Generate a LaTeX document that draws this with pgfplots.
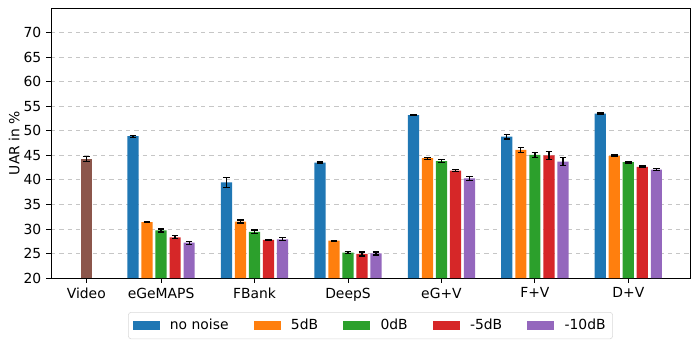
\documentclass[border=0pt]{standalone}
\usepackage{fontspec}
\setmainfont{DejaVu Sans}
\usepackage{pgfplots}
\pgfplotsset{compat=1.18}
\definecolor{tabblue}{HTML}{1F77B4}
\definecolor{taborange}{HTML}{FF7F0E}
\definecolor{tabgreen}{HTML}{2CA02C}
\definecolor{tabred}{HTML}{D62728}
\definecolor{tabpurple}{HTML}{9467BD}
\definecolor{tabbrown}{HTML}{8C564B}
\pgfplotsset{
  errbar/.style={
    ybar, bar width=0.12, bar shift=0pt, draw=none,
    error bars/y dir=both, error bars/y explicit,
    error bars/error bar style={black, line width=0.9pt},
    error bars/error mark options={black, mark size=2.4pt, line width=0.9pt, rotate=90},
  },
}
\begin{document}
\fontsize{10}{12}\selectfont
\begin{tikzpicture}
\begin{axis}[
  name=ax,
  scale only axis, width=460pt, height=194.4pt,
  xmin=-0.178, xmax=6.66, ymin=20, ymax=75,
  ytick={20,25,...,70},
  xtick={0.2,1,2,3,4,5,6},
  xticklabels={Video,eGeMAPS,FBank,DeepS,eG+V,F+V,D+V},
  tick align=outside, xtick pos=bottom, ytick pos=left,
  major tick length=3.5pt,
  tick style={black, line width=0.6pt},
  axis line style={line width=0.6pt},
  ymajorgrids, grid style={dashed, gray!45, line width=0.6pt},
  ylabel={UAR in \%},
  ylabel shift=-4pt,
  ylabel style={font=\fontsize{10}{12}\selectfont},
  tick label style={font=\fontsize{10}{12}\selectfont},
  /pgf/number format/assume math mode=true,
  legend columns=5,
  legend style={
    at={(0.5,-0.126)}, anchor=north,
    font=\fontsize{10}{12}\selectfont,
    draw=gray!30, rounded corners=2pt,
    inner xsep=3pt, inner ysep=3pt,
    /tikz/every odd column/.append style={column sep=5.5pt},
    /tikz/every even column/.append style={column sep=16pt},
  },
  legend cell align=left,
  legend image code/.code={\fill[#1, sharp corners] (0pt,-3.2pt) rectangle (19.4pt,3.2pt);},
]
\addplot[errbar, fill=tabbrown, forget plot] coordinates {(0.2,44.3) +- (0,0.5)};

\addplot[errbar, fill=tabblue] coordinates {
  (0.7,48.9) +- (0,0.2) (1.7,39.5) +- (0,1.0) (2.7,43.5) +- (0,0.15)
  (3.7,53.2) +- (0,0.15) (4.7,48.8) +- (0,0.5) (5.7,53.5) +- (0,0.1)};
\addlegendentry{no noise}
\addplot[errbar, fill=taborange] coordinates {
  (0.85,31.4) +- (0,0.15) (1.85,31.5) +- (0,0.3) (2.85,27.6) +- (0,0.1)
  (3.85,44.4) +- (0,0.2) (4.85,46.1) +- (0,0.5) (5.85,44.9) +- (0,0.15)};
\addlegendentry{5dB}
\addplot[errbar, fill=tabgreen] coordinates {
  (1,29.7) +- (0,0.3) (2,29.4) +- (0,0.4) (3,25.2) +- (0,0.15)
  (4,43.8) +- (0,0.3) (5,45.1) +- (0,0.5) (6,43.6) +- (0,0.15)};
\addlegendentry{0dB}
\addplot[errbar, fill=tabred] coordinates {
  (1.15,28.3) +- (0,0.3) (2.15,27.75) +- (0,0.1) (3.15,24.9) +- (0,0.4)
  (4.15,41.9) +- (0,0.2) (5.15,45.0) +- (0,0.8) (6.15,42.65) +- (0,0.15)};
\addlegendentry{-5dB}
\addplot[errbar, fill=tabpurple] coordinates {
  (1.3,27.2) +- (0,0.3) (2.3,27.9) +- (0,0.3) (3.3,25.0) +- (0,0.3)
  (4.3,40.3) +- (0,0.4) (5.3,43.7) +- (0,0.8) (6.3,42.1) +- (0,0.2)};
\addlegendentry{-10dB}
\end{axis}
\pgfresetboundingbox
\path[use as bounding box] ([xshift=-36.72pt,yshift=-48.24pt]ax.south west) rectangle ([xshift=6.48pt,yshift=5.76pt]ax.north east);
\end{tikzpicture}
\end{document}
